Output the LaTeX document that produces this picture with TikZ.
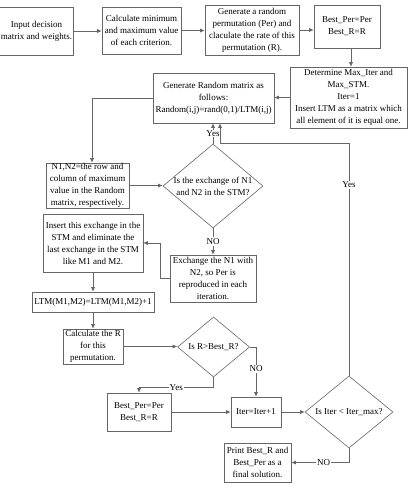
\documentclass[tikz,border=0pt]{standalone}
\usepackage{fontspec}
\setmainfont{Liberation Serif}
\usetikzlibrary{shapes.geometric,arrows.meta}
\begin{document}
\begin{tikzpicture}[x=1pt,y=-1pt,
  every node/.style={font=\fontsize{9}{12}\selectfont, text=black},
  box/.style={draw=black!60, line width=0.6pt, align=center, inner sep=0pt},
  dia/.style={draw=black!60, line width=0.6pt, diamond, inner sep=0pt},
  txt/.style={align=center, inner sep=0pt},
  con/.style={draw=black!60, line width=0.6pt, -{Latex[length=4.5pt,width=4pt]}},
  lab/.style={fill=white, inner sep=1pt}]
\useasboundingbox (0,0) rectangle (408,488);

% boxes
\node[box,minimum width=74pt,minimum height=48pt] (b1) at (36.5,31) {Input decision\\matrix and weights.};
\node[box,minimum width=79pt,minimum height=47pt] (b2) at (141.5,30.5) {Calculate minimum\\and maximum value\\of each criterion.};
\node[box,minimum width=94pt,minimum height=50pt] (b3) at (252,30) {Generate a random\\permutation (Per) and\\claculate the rate of this\\permutation (R).};
\node[box,minimum width=66pt,minimum height=43pt] (b4) at (347,26.5) {Best\_Per=Per\\Best\_R=R};
\node[box,minimum width=117pt,minimum height=61pt] (b5) at (348.5,97.5) {Determine Max\_Iter and\\Max\_STM.\\Iter=1\\Insert LTM as a matrix which\\all element of it is equal one.};
\node[box,minimum width=121pt,minimum height=50pt] (b6) at (213.5,98) {Generate Random matrix as\\follows:\\Random(i,j)=rand(0,1)/LTM(i,j)};
\node[box,minimum width=83pt,minimum height=45pt] (b7) at (87.5,185.5) {N1,N2=the row and\\column of maximum\\value in the Random\\matrix, respectively.};
\node[dia,minimum width=100pt,minimum height=84pt] (d1) at (213,186) {};
\node[txt] (d1t) at (d1) {Is the exchange of N1\\and N2 in the STM?};
\node[box,minimum width=100pt,minimum height=58pt] (b8) at (93,243) {Insert this exchange in the\\STM and eliminate the\\last exchange in the STM\\like M1 and M2.};
\node[box,minimum width=86pt,minimum height=47pt] (b9) at (213,278.5) {Exchange the N1 with\\N2, so Per is\\reproduced in each\\iteration.};
\node[box,minimum width=122pt,minimum height=20pt] (b10) at (93,302) {LTM(M1,M2)=LTM(M1,M2)+1};
\node[box,minimum width=60pt,minimum height=35pt] (b11) at (93,346.5) {Calculate the R\\for this\\permutation.};
\node[dia,minimum width=72pt,minimum height=60pt] (d2) at (213.5,347) {};
\node[txt] (d2t) at (d2) {Is R>Best\_R?};
\node[box,minimum width=64pt,minimum height=38pt] (b12) at (139,412) {Best\_Per=Per\\Best\_R=R};
\node[box,minimum width=50pt,minimum height=30pt] (b13) at (256,412) {Iter=Iter+1};
\node[dia,minimum width=88pt,minimum height=72pt] (d3) at (349,412) {};
\node[txt] (d3t) at (d3) {Is Iter < Iter\_max?};
\node[box,minimum width=67pt,minimum height=39pt] (b14) at (257.5,462.5) {Print Best\_R and\\Best\_Per as a\\final solution.};

% connectors
\draw[con] (b1.east) -- (b1.east -| b2.west);
\draw[con] (b2.east) -- (b2.east -| b3.west);
\draw[con] (b3.east) -- (b3.east -| b4.west);
\draw[con] ([xshift=4pt]b4.south) -- ([xshift=4pt]b4.south |- b5.north);
\draw[con] (b5.west) -- (b5.west -| b6.east);
\draw[con] (b6.west) -| ([xshift=4.5pt]b7.north);
\draw[con] (b7.east) -- (b7.east -| d1.west);
\draw[con] (d1.north) -- node[lab]{Yes} (d1.north |- b6.south);
\draw[con] (d1.south) -- node[lab]{NO} (d1.south |- b9.north);
\draw[con] (b9.west) -- ++(-9,0) |- (b8.east);
\draw[con] (b8.south) -- (b10.north);
\draw[con] (b10.south) -- (b11.north);
\draw[con] (b11.east) -- (b11.east -| d2.west);
\draw[con] (d2.east) -| node[lab,pos=0.72]{NO} (b13.north);
\draw[con] (d2.south) -- ++(0,10) -| node[lab,pos=0.25]{Yes} (b12.north);
\draw[con] (b12.east) -- (b12.east -| b13.west);
\draw[con] (b13.east) -- (b13.east -| d3.west);
\draw[con] (d3.south) |- node[lab,pos=0.72]{NO} (b14.east);
\coordinate (loop) at (349,143);
\draw[con] (d3.north) -- node[lab,pos=0.82]{Yes} (loop) -| ([xshift=6.5pt]b6.south);
\end{tikzpicture}
\end{document}
